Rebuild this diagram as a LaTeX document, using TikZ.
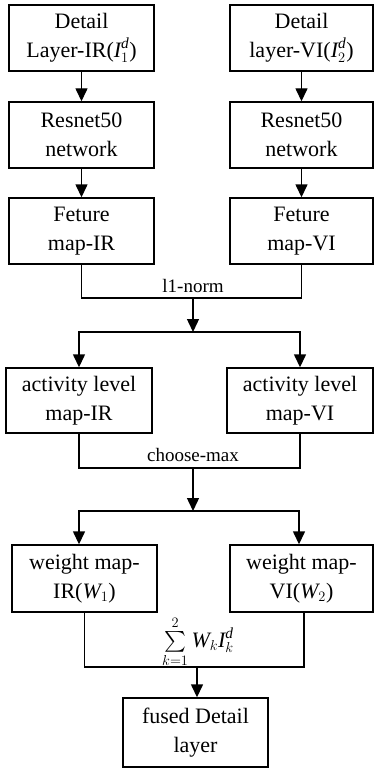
\documentclass[tikz,border=0pt]{standalone}
\usepackage{amsmath}
\usepackage{fontspec}
\setmainfont{Liberation Serif}
\usetikzlibrary{arrows.meta}
\newcommand{\itx}[1]{\text{\itshape #1}}
\tikzset{
  box/.style={draw, line width=1.4pt, align=center, inner sep=0pt,
    font=\fontsize{22}{29}\selectfont},
  lab/.style={inner sep=0pt, font=\fontsize{19}{21}\selectfont},
  conn/.style={line width=1.4pt},
  arr/.style={line width=1.4pt, -{Triangle[width=12pt,length=13pt]}},
}
\begin{document}
\begin{tikzpicture}[x=1pt,y=-1pt]
\useasboundingbox (0,0) rectangle (374,770);
% row 1
\node[box, minimum width=145, minimum height=66] (dl) at (81.5,38) {Detail\\Layer-IR($\itx{I}_1^{\itx{d}}$)};
\node[box, minimum width=143, minimum height=66] (dr) at (301.5,38) {Detail\\layer-VI($\itx{I}_2^{\itx{d}}$)};
% row 2
\node[box, minimum width=145, minimum height=66] (rl) at (81.5,135) {Resnet50\\network};
\node[box, minimum width=143, minimum height=66] (rr) at (301.5,135) {Resnet50\\network};
% row 3
\node[box, minimum width=145, minimum height=66] (fl) at (81.5,231) {Feture\\map-IR};
\node[box, minimum width=143, minimum height=66] (fr) at (301.5,231) {Feture\\map-VI};
% row 4
\node[box, minimum width=146, minimum height=65] (al) at (79,400.5) {activity level\\map-IR};
\node[box, minimum width=146, minimum height=65] (ar) at (300,400.5) {activity level\\map-VI};
% row 5
\node[box, minimum width=145, minimum height=67] (wl) at (84.5,578.5) {weight map-\\IR($\itx{W}_1$)};
\node[box, minimum width=143, minimum height=67] (wr) at (301.5,578.5) {weight map-\\VI($\itx{W}_2$)};
% fused
\node[box, minimum width=145, minimum height=69] (fu) at (195.5,732.5) {fused Detail\\layer};

\draw[arr] (dl) -- (rl);
\draw[arr] (dr) -- (rr);
\draw[arr] (rl) -- (fl);
\draw[arr] (rr) -- (fr);

% l1-norm
\coordinate (m1) at (193,298);
\coordinate (s1) at (193,332);
\draw[conn] (fl.south) |- (m1) -| (fr.south);
\node[lab] (n1) at (193,286) {l1-norm};
\draw[arr] (m1) -- (s1);
\draw[arr] (s1) -| (al.north);
\draw[arr] (s1) -| (ar.north);

% choose-max
\coordinate (m2) at (193,468);
\coordinate (s2) at (193,511);
\draw[conn] (al.south) |- (m2) -| (ar.south);
\node[lab] (n2) at (193,455) {choose-max};
\draw[arr] (m2) -- (s2);
\draw[arr] (s2) -| ([xshift=-5.5pt]wl.north);
\draw[arr] (s2) -| ([xshift=-2.5pt]wr.north);

% sum
\coordinate (m3) at (197,667);
\draw[conn] (wl.south) |- (m3) -| ([xshift=2.5pt]wr.south);
\node[lab, font=\fontsize{22}{24}\selectfont] (n3) at (198,642) {$\sum\limits_{k=1}^{2}\itx{W}_k\itx{I}_k^{\itx{d}}$};
\draw[arr] (m3) -- (m3 |- fu.north);
\end{tikzpicture}
\end{document}
